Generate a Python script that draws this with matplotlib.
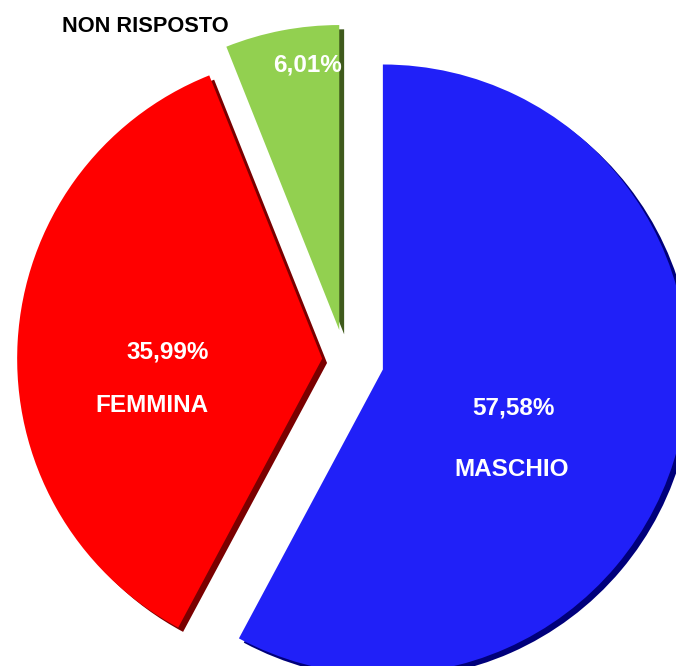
import numpy as np
import matplotlib
matplotlib.use('Agg')
from matplotlib import pyplot as plt

labels = ['MASCHIO', 'FEMMINA', 'NON RISPOSTO']
values = [57.58, 35.99, 6.01]
pct_text = ['57,58%', '35,99%', '6,01%']
colors = ['#2020f8', '#ff0000', '#92d050']
dark = ['#00007a', '#7a0000', '#3f5a1c']
explode = [0.128, 0.075, 0.10]

plt.rcParams['font.family'] = ['Liberation Sans', 'DejaVu Sans']

S = 305.0          # pixels per unit radius
CX, CY = 345, 360  # pie centre in pixels

fig = plt.figure(figsize=(6.76, 6.66), dpi=100)
ax = fig.add_axes([0, 0, 1, 1])

# shadow / bevel layer
ax.pie(values, colors=dark, explode=explode, startangle=90, counterclock=False,
       radius=1.0, center=(0.016, -0.014), wedgeprops=dict(linewidth=0))
ax.pie(values, colors=colors, explode=explode, startangle=90, counterclock=False,
       radius=1.0, center=(0, 0), wedgeprops=dict(linewidth=0))

def px(x, y):
    return (x - CX) / S, (CY - y) / S

kw = dict(color='white', fontsize=17.5, fontweight='bold', ha='center', va='center')
ax.text(*px(513, 408), pct_text[0], **kw)
ax.text(*px(512, 470), labels[0], **kw)
ax.text(*px(168, 352), pct_text[1], **kw)
ax.text(*px(152, 405), labels[1], **kw)
ax.text(*px(308, 65), pct_text[2], **kw)
ax.text(*px(145, 27), labels[2], color='black', fontsize=15.7, fontweight='bold',
        ha='center', va='center')

ax.set_xlim(-CX / S, (676 - CX) / S)
ax.set_ylim(-(666 - CY) / S, CY / S)
ax.set_aspect('equal')
ax.axis('off')

plt.savefig('out.png', dpi=100)
